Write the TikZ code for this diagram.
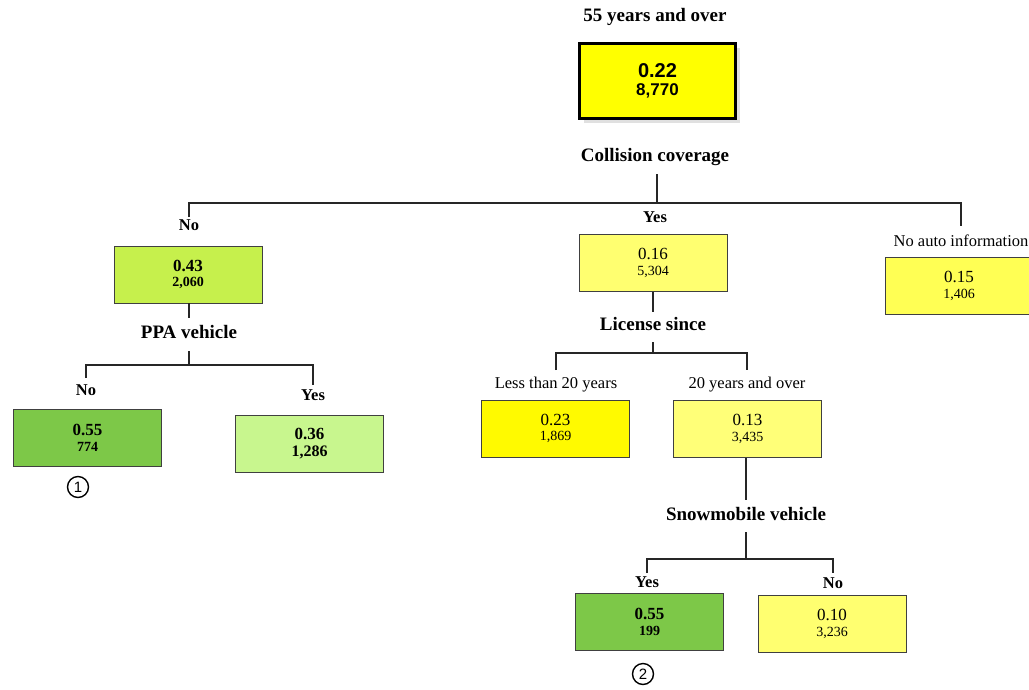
\documentclass[tikz,border=0pt]{standalone}
\usepackage{fontspec}
\setmainfont{Liberation Serif}
\newfontfamily\arialfam{Liberation Sans}
\usetikzlibrary{shadows}

% fill colours of the tree nodes
\definecolor{rootY}{RGB}{255,255,0}
\definecolor{midGreen}{RGB}{198,240,76}
\definecolor{darkGreen}{RGB}{125,200,72}
\definecolor{paleGreen}{RGB}{200,246,142}
\definecolor{paleYel}{RGB}{255,255,112}
\definecolor{brightYel}{RGB}{255,250,0}
\definecolor{softYel}{RGB}{255,255,120}
\definecolor{naYel}{RGB}{255,255,84}

% two stacked values: rate on top, count below
\newcommand\cellvals[4]{\fontsize{#1}{15}\selectfont #2\\\fontsize{#3}{15}\selectfont #4}

\tikzset{
  box/.style={draw=black!75, line width=0.8pt, minimum width=148pt,
    minimum height=57pt, inner sep=0pt, align=center,
    font=\fontsize{16}{15.5}\selectfont\bfseries},
  plain/.style={font=\fontsize{16}{15.5}\selectfont\mdseries},
  split/.style={font=\fontsize{19}{21}\selectfont\bfseries, anchor=base, inner sep=0pt},
  branch/.style={font=\fontsize{16.5}{18}\selectfont\bfseries, anchor=base, inner sep=0pt},
  branchr/.style={font=\fontsize{16.5}{18}\selectfont, anchor=base, inner sep=0pt},
  link/.style={line width=1.3pt, black!85},
  tag/.style={circle, draw, line width=1.4pt, minimum size=21pt, inner sep=0pt,
    font=\fontsize{15}{15}\selectfont\arialfam}
}

\begin{document}
\begin{tikzpicture}[x=1pt,y=-1pt]
\useasboundingbox (0,0) rectangle (1029,689);
\clip (0,0) rectangle (1029,689);

% ---------- root ----------
\node[split] (tRoot) at (655,21) {55 years and over};
\node[box, fill=rootY, draw=black, line width=3pt, minimum width=156pt,
  minimum height=75pt, font=\fontsize{18}{17.5}\selectfont\bfseries\arialfam,
  drop shadow={shadow xshift=4pt, shadow yshift=-4pt, fill=black!12, opacity=1}]
  (root) at (657.5,81) {\cellvals{20}{0.22}{17}{8,770}};

% ---------- split: collision coverage ----------
\node[split] (sColl) at (655,161) {Collision coverage};
\coordinate (collTop) at (657,174);
\coordinate (collJ) at (657,203);
\coordinate (dNo) at (189,217);
\coordinate (dNA) at (961,226);
\draw[link] (collTop) -- (collJ);
\draw[link] (dNo) |- (collJ) -| (dNA);
\node[branch] (bNo) at (189,230) {No};
\node[branch] (bYes) at (655,222) {Yes};
\node[branchr] (bNA) at (961,246) {No auto information};

\node[box, fill=midGreen] (nNo) at (188,274.5) {\cellvals{17}{0.43}{14}{2,060}};
\node[box, fill=paleYel, plain] (nYes) at (653,263) {\cellvals{17}{0.16}{14}{5,304}};
\node[box, fill=naYel, plain] (nNA) at (959,286) {\cellvals{17}{0.15}{14}{1,406}};

% ---------- split: PPA vehicle ----------
\coordinate (ppaIn) at (189,318);
\draw[link] (nNo.south -| ppaIn) -- (ppaIn);
\node[split] (sPPA) at (189,338) {PPA vehicle};
\coordinate (ppaTop) at (189,351);
\coordinate (ppaJ) at (189,365);
\coordinate (dPNo) at (86,378);
\coordinate (dPYes) at (313,385);
\draw[link] (ppaTop) -- (ppaJ);
\draw[link] (dPNo) |- (ppaJ) -| (dPYes);
\node[branch] (bPNo) at (86,395) {No};
\node[branch] (bPYes) at (313,400) {Yes};

\node[box, fill=darkGreen] (nPNo) at (87.5,438) {\cellvals{17}{0.55}{14}{774}};
\node[box, fill=paleGreen, font=\fontsize{16}{17}\selectfont\bfseries] (nPYes) at (309.5,443.5) {\cellvals{17}{0.36}{16}{1,286}};
\node[tag] (tag1) at (78,487) {1};

% ---------- split: license since ----------
\coordinate (licIn) at (653,312);
\draw[link] (nYes.south) -- (licIn);
\node[split] (sLic) at (653,330) {License since};
\coordinate (licTop) at (653,342);
\coordinate (licJ) at (653,353);
\coordinate (dLess) at (556,370);
\coordinate (dOver) at (747,370);
\draw[link] (licTop) -- (licJ);
\draw[link] (dLess) |- (licJ) -| (dOver);
\node[branchr] (bLess) at (556,388) {Less than 20 years};
\node[branchr] (bOver) at (747,388) {20 years and over};

\node[box, fill=brightYel, plain] (nLess) at (555.5,428.5) {\cellvals{17}{0.23}{14}{1,869}};
\node[box, fill=softYel, plain] (nOver) at (747.5,429) {\cellvals{17}{0.13}{14}{3,435}};

% ---------- split: snowmobile vehicle ----------
\coordinate (snowIn) at (746,500);
\draw[link] (nOver.south -| snowIn) -- (snowIn);
\node[split] (sSnow) at (746,520) {Snowmobile vehicle};
\coordinate (snowTop) at (746,532);
\coordinate (snowJ) at (746,559);
\coordinate (dSYes) at (647,573);
\coordinate (dSNo) at (833,573);
\draw[link] (snowTop) -- (snowJ);
\draw[link] (dSYes) |- (snowJ) -| (dSNo);
\node[branch] (bSYes) at (647,587) {Yes};
\node[branch] (bSNo) at (833,588) {No};

\node[box, fill=darkGreen] (nSYes) at (649.5,622) {\cellvals{17}{0.55}{14}{199}};
\node[box, fill=paleYel, plain] (nSNo) at (832,624) {\cellvals{17}{0.10}{14}{3,236}};
\node[tag] (tag2) at (643,674) {2};
\end{tikzpicture}
\end{document}
